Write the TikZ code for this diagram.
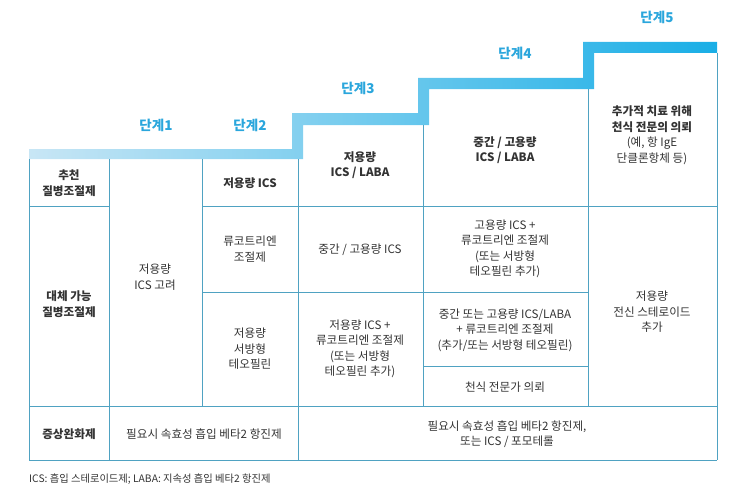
\documentclass[tikz,border=0pt]{standalone}
\usepackage{fontspec}
\setmainfont{Noto Sans CJK KR}
\definecolor{txt}{HTML}{333333}
\definecolor{stepblue}{HTML}{2AA6DC}
\definecolor{gridc}{HTML}{4FA2C2}
\definecolor{barlight}{HTML}{C8E6F5}
\definecolor{bardark}{HTML}{19AEE6}
\begin{document}
\begin{tikzpicture}[x=1pt,y=-1pt,
  cell/.style={font=\fontsize{11.6}{15.5}\selectfont, text=txt, align=center, inner sep=0pt},
  hdr/.style={cell, font=\fontsize{11.6}{15.5}\selectfont\bfseries},
  stage/.style={font=\fontsize{13.5}{15}\selectfont\bfseries, text=stepblue, inner sep=0pt},
  gridline/.style={draw=gridc, line width=0.9pt},
  note/.style={font=\fontsize{10.3}{12}\selectfont, text=txt, anchor=west, inner sep=0pt}]
\useasboundingbox (0,0) rectangle (755,503);
% staircase bar
\shade[left color=barlight, right color=bardark]
  (29,149) -- (292,149) -- (292,113) -- (418,113) -- (418,78) -- (583,78) -- (583,42)
  -- (717,42) -- (717,53) -- (594,53) -- (594,89) -- (429,89) -- (429,125)
  -- (303,125) -- (303,159) -- (29,159) -- cycle;
% grid
\draw[gridline] (29,159) -- (29,460);
\draw[gridline] (109,159) -- (109,460);
\draw[gridline] (202,159) -- (202,406);
\draw[gridline] (298,159) -- (298,460);
\draw[gridline] (423,125) -- (423,406);
\draw[gridline] (588,89) -- (588,406);
\draw[gridline] (717,53) -- (717,460);
\draw[gridline] (29,206) -- (109,206);
\draw[gridline] (202,206) -- (717,206);
\draw[gridline] (202,292) -- (588,292);
\draw[gridline] (423,366) -- (588,366);
\draw[gridline] (29,406) -- (717,406);
\draw[gridline] (29,460) -- (717,460);
% stage labels
\node[stage] (s1) at (156,125) {단계1};
\node[stage] (s2) at (250,125) {단계2};
\node[stage] (s3) at (358,88) {단계3};
\node[stage] (s4) at (515,53) {단계4};
\node[stage] (s5) at (657,17) {단계5};
% column 0
\node[hdr] (c0a) at (69,183) {추천\\질병조절제};
\node[hdr] (c0b) at (69,304) {대체 가능\\질병조절제};
\node[hdr] (c0c) at (69,434) {증상완화제};
% column 1
\node[cell] (c1) at (155,277) {저용량\\ICS 고려};
% column 2
\node[hdr] (c2a) at (250,183) {저용량 ICS};
\node[cell] (c2b) at (250,249) {류코트리엔\\조절제};
\node[cell] (c2c) at (250,349) {저용량\\서방형\\테오필린};
% column 3
\node[hdr] (c3a) at (360,165) {저용량\\ICS / LABA};
\node[cell] (c3b) at (360,250) {중간 / 고용량 ICS};
\node[cell] (c3c) at (360,349) {저용량 ICS +\\류코트리엔 조절제\\(또는 서방형\\테오필린 추가)};
% column 4
\node[hdr] (c4a) at (505,150) {중간 / 고용량\\ICS / LABA};
\node[cell] (c4b) at (505,249) {고용량 ICS +\\류코트리엔 조절제\\(또는 서방형\\테오필린 추가)};
\node[cell] (c4c) at (505,330) {중간 또는 고용량 ICS/LABA\\+ 류코트리엔 조절제\\(추가/또는 서방형 테오필린)};
\node[cell] (c4d) at (505,387) {천식 전문가 의뢰};
% column 5
\node[cell] (c5a) at (652,135) {\textbf{추가적 치료 위해}\\\textbf{천식 전문의 의뢰}\\(예, 항 IgE\\단클론항체 등)};
\node[cell] (c5b) at (652,312) {저용량\\전신 스테로이드\\추가};
% reliever row
\node[cell] (r1) at (204,434) {필요시 속효성 흡입 베타2 항진제};
\node[cell] (r2) at (507,434) {필요시 속효성 흡입 베타2 항진제,\\또는 ICS / 포모테롤};
% footnote
\node[note] (fn) at (29,479) {ICS: 흡입 스테로이드제; LABA: 지속성 흡입 베타2 항진제};
\end{tikzpicture}
\end{document}
